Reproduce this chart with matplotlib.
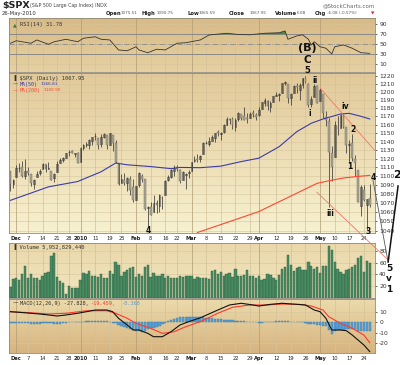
import numpy as np
import pandas as pd
import matplotlib
matplotlib.use('Agg')
import matplotlib.pyplot as plt
from matplotlib.colors import LinearSegmentedColormap
from matplotlib.ticker import FixedLocator, FixedFormatter, NullLocator
# ================================================================================= #
#                                   Data                                            #
# ================================================================================= #
holidays = ['2009-12-25', '2010-01-01', '2010-01-18', '2010-02-15', '2010-04-02']
dates = pd.bdate_range('2009-11-27', '2010-05-26')
dates = dates[~dates.isin(pd.to_datetime(holidays))]

opens = [1105.47, 1091.07,
         1098.89, 1109.03, 1110.59, 1100.43, 1105.52, 1103.04, 1091.07, 1098.69, 1103.96, 1107.84, 1114.11,
         1108.61, 1106.36, 1097.86, 1105.31, 1114.51, 1118.84, 1121.08, 1127.53, 1128.55, 1125.53, 1126.60,
         1116.56, 1132.66, 1135.71, 1136.27, 1140.52, 1145.96, 1143.81, 1137.31, 1145.68, 1147.72, 1136.03,
         1147.95, 1138.68, 1115.49, 1092.40, 1095.80, 1091.94, 1096.93, 1087.61,
         1073.89, 1090.05, 1100.67, 1097.25, 1064.12, 1065.51, 1060.06, 1069.68, 1067.10, 1075.95, 1079.13,
         1096.14, 1099.03, 1105.49, 1110.00, 1107.49, 1095.89, 1101.24, 1103.10,
         1105.36, 1117.01, 1119.36, 1119.12, 1125.12, 1138.40, 1137.56, 1140.22, 1143.96, 1151.71, 1148.53,
         1150.83, 1159.94, 1166.13, 1166.68, 1157.25, 1166.47, 1172.70, 1170.03, 1167.58, 1167.71, 1173.75, 1171.75,
         1171.23, 1178.71, 1186.01, 1188.23, 1181.75, 1187.47, 1194.94, 1195.94, 1198.69, 1210.77, 1210.17,
         1192.06, 1199.04, 1207.16, 1202.52, 1207.87, 1217.07, 1209.92, 1184.59, 1193.30, 1206.77,
         1188.58, 1197.50, 1169.24, 1164.38, 1127.04, 1122.27, 1156.39, 1155.43, 1170.04, 1157.19, 1136.52,
         1138.78, 1119.57, 1107.34, 1067.26, 1084.78, 1067.42, 1075.51]
highs = [1105.47, 1097.24,
         1112.28, 1115.58, 1117.28, 1119.13, 1110.72, 1103.04, 1097.04, 1106.25, 1108.45, 1114.76, 1114.11,
         1116.21, 1106.36, 1103.74, 1117.68, 1120.27, 1121.58, 1126.48, 1130.38, 1130.38, 1126.42, 1127.64,
         1133.87, 1136.63, 1139.19, 1142.46, 1145.39, 1149.74, 1143.81, 1148.40, 1150.41, 1147.77, 1150.45,
         1147.95, 1141.58, 1115.49, 1102.97, 1103.69, 1099.51, 1100.22, 1096.45,
         1089.38, 1104.73, 1102.72, 1097.25, 1067.13, 1071.20, 1079.28, 1073.67, 1080.04, 1077.81, 1095.67,
         1101.03, 1108.24, 1112.42, 1112.29, 1108.58, 1106.42, 1103.50, 1107.24,
         1116.11, 1123.46, 1125.64, 1123.73, 1139.38, 1141.05, 1145.37, 1148.26, 1150.24, 1153.41, 1150.98,
         1160.28, 1169.20, 1167.77, 1169.20, 1167.82, 1174.72, 1173.04, 1180.69, 1173.93, 1174.85, 1177.83, 1174.56,
         1181.43, 1187.73, 1191.80, 1189.60, 1188.55, 1194.66, 1199.20, 1199.04, 1210.65, 1213.92, 1210.17,
         1197.87, 1208.58, 1210.99, 1210.27, 1217.28, 1219.80, 1211.38, 1195.05, 1209.36, 1207.99,
         1205.13, 1197.50, 1175.95, 1167.58, 1135.13, 1163.85, 1170.48, 1172.87, 1173.57, 1157.19, 1141.88,
         1148.66, 1124.27, 1107.34, 1090.16, 1089.95, 1074.75, 1090.75]
lows = [1083.74, 1086.25,
        1098.89, 1105.29, 1098.74, 1096.52, 1100.83, 1088.61, 1085.89, 1098.69, 1101.34, 1107.84, 1105.35,
        1107.96, 1095.88, 1093.88, 1105.31, 1114.51, 1116.00, 1121.08, 1123.51, 1126.08, 1121.94, 1114.81,
        1116.56, 1129.66, 1133.95, 1131.32, 1136.22, 1142.02, 1131.77, 1133.18, 1143.80, 1131.39, 1135.77,
        1129.25, 1114.84, 1090.18, 1092.40, 1089.86, 1083.11, 1078.46, 1071.59,
        1073.89, 1087.96, 1093.97, 1062.78, 1044.50, 1056.51, 1060.06, 1059.34, 1060.59, 1062.97, 1079.13,
        1094.72, 1097.48, 1100.80, 1105.38, 1092.18, 1095.50, 1086.02, 1097.56,
        1105.36, 1116.51, 1116.58, 1116.66, 1125.12, 1136.77, 1134.90, 1140.09, 1138.99, 1146.97, 1141.45,
        1150.35, 1159.94, 1161.16, 1155.33, 1152.88, 1163.83, 1166.01, 1165.09, 1161.48, 1167.71, 1168.92, 1165.77,
        1170.69, 1178.71, 1182.77, 1177.25, 1175.12, 1187.15, 1194.71, 1188.82, 1198.69, 1208.50, 1186.77,
        1183.68, 1199.04, 1198.85, 1190.19, 1205.10, 1211.07, 1181.62, 1181.81, 1193.30, 1186.32,
        1188.58, 1168.12, 1158.15, 1065.79, 1094.15, 1122.27, 1147.71, 1155.43, 1156.14, 1126.14, 1114.96,
        1117.20, 1100.66, 1071.58, 1055.90, 1072.70, 1040.78, 1065.59]
closes = [1091.49, 1095.63,
          1108.86, 1109.24, 1099.92, 1105.98, 1103.25, 1091.94, 1095.95, 1102.35, 1106.41, 1114.11, 1107.93,
          1109.18, 1096.08, 1102.47, 1114.05, 1118.02, 1120.59, 1126.48, 1127.78, 1126.20, 1126.42, 1115.10,
          1132.99, 1136.52, 1137.14, 1141.69, 1144.98, 1146.98, 1136.22, 1145.68, 1148.46, 1136.03, 1150.23,
          1138.04, 1116.48, 1091.76, 1096.78, 1092.17, 1097.50, 1084.53, 1073.87,
          1089.19, 1103.32, 1097.28, 1063.11, 1066.19, 1056.74, 1070.52, 1068.13, 1078.47, 1075.51, 1094.87,
          1099.51, 1106.75, 1109.17, 1108.01, 1094.60, 1105.24, 1102.94, 1104.49,
          1115.71, 1118.31, 1118.79, 1122.97, 1138.70, 1138.50, 1140.45, 1145.61, 1150.24, 1149.99, 1150.51,
          1159.46, 1166.21, 1165.83, 1159.90, 1165.81, 1174.17, 1167.72, 1165.73, 1166.59, 1173.22, 1173.27, 1169.43,
          1178.10, 1187.44, 1189.44, 1182.45, 1186.44, 1194.37, 1196.48, 1197.30, 1210.65, 1211.67, 1192.13,
          1197.52, 1207.17, 1205.94, 1208.67, 1217.28, 1212.05, 1183.71, 1191.36, 1206.78, 1186.69,
          1202.26, 1173.60, 1165.90, 1128.15, 1110.88, 1159.73, 1155.79, 1171.67, 1157.44, 1135.68, 1136.94,
          1120.80, 1115.05, 1071.59, 1087.69, 1073.65, 1074.03, 1067.95]

# volume in hundreds of millions of shares
volume_100m = [18, 32, 34, 31, 41, 54, 34, 40, 34, 34, 30, 38, 43, 44, 71, 76, 35, 28, 25, 7.5,
               20, 17, 17, 17, 31, 42, 41, 46, 38, 36.5, 35, 41, 34, 34, 45, 40, 61, 55, 38, 44,
               48, 51, 52, 35, 41, 38, 53, 56, 35, 42, 36.5, 36.5, 41, 34, 36.5, 33, 34, 34, 36.5, 35,
               36.5, 38,
               36.5, 32, 35, 33, 33, 33, 32, 45, 47, 41, 43.5, 38, 40, 42, 35, 49, 36.5, 36.5, 39, 48,
               38, 36.5, 34, 38, 31, 32, 41, 39, 34, 31, 39, 49, 52.8, 73, 56, 46, 50, 51.6, 47, 48,
               61, 54, 49, 53, 42, 54, 54, 87.5, 82, 61, 49, 43.5, 41, 48, 49, 53, 55, 68, 71, 43.5,
               62, 59.5]

# moving averages (bar index, value)
ma50_idx = [0, 13, 23, 31, 36, 40, 48, 55, 58, 65, 72, 79, 85, 92, 98, 103, 107, 113, 116, 120, 123]
ma50_val = [1073, 1088, 1094, 1105, 1115, 1113, 1111, 1108.6, 1110, 1109.7, 1111.5, 1116.7, 1120.6,
            1134, 1151.6, 1161.7, 1166.8, 1172.8, 1173.6, 1170, 1166.81]
ma200_idx = [64, 85, 105, 109, 114, 119, 123]
ma200_val = [1038, 1060.6, 1092, 1094.8, 1098, 1099.8, 1100.90]

# RSI(14)
rsi_idx = [0, 2, 7, 9, 13, 15, 19, 23, 25, 29, 31, 34, 37, 40, 43, 44, 47, 50, 53, 57, 60, 65, 68,
           74, 78, 82, 87, 92, 94, 95, 98, 100, 102, 103, 104, 106, 108, 110, 111, 114, 117, 120, 123]
rsi_val = [52, 57, 52, 58.6, 50, 55, 60, 55, 62, 65, 60, 58.6, 38.6, 37, 45, 38.6, 33, 40, 38.6, 52, 53,
           58.6, 68.6, 72, 69.5, 69, 72, 73, 76.6, 60, 66.6, 69, 60, 48.6, 55, 45, 42, 30.6, 45, 48.6,
           42, 33, 31.78]

# MACD(12,26,9)
macd_idx = [0, 3, 7, 10, 13, 16, 19, 23, 26, 29, 33, 35, 37, 40, 42, 44, 47, 49, 52, 55, 58, 61, 65,
            71, 75, 79, 83, 85, 89, 93, 98, 101, 104, 106, 108, 110, 113, 115, 117, 121, 123]
macd_val = [10.1, 9.5, 8.6, 7.9, 7.0, 6.0, 7.0, 8.6, 10.1, 11.7, 11.7, 10.1, 3.8, -2.6, -7.3, -7.3,
            -10.5, -13.7, -13.7, -8.9, -2.6, 0.6, 4.3, 11.7, 16.5, 18.1, 16.5, 15.5, 17.1, 18.1, 17.1,
            16.5, 11.7, 10.1, 3.8, -7.3, -7.3, -8.0, -12.1, -21.6, -27.828]
signal_idx = [0, 7, 13, 19, 26, 33, 36, 40, 43, 48, 52, 56, 60, 65, 71, 76, 82, 88, 93, 99, 103,
              107, 109, 113, 117, 121, 123]
signal_val = [10.1, 9.1, 7.9, 8.6, 11.0, 11.0, 8.6, 3.8, -1.0, -5.7, -10.5, -9.0, -4.2, 0.6, 8.6,
              14.3, 16.5, 16.5, 17.4, 17.1, 15.5, 11.7, 5.3, -1.0, -5.7, -12.1, -19.459]
hist_val = [-0.5, -0.6, -0.7, -0.8, -0.9, -1.0, -1.0, -1.2, -1.4, -1.5,
            -1.5, -1.0, -0.6, -0.5, -1.0, -1.3, -1.5, -1.4, -1.1, -0.6,
            0.2, 0.4, 0.5, 0.5, 0.6, 0.7, 0.8, 1.0, 1.1, 1.0,
            0.9, 1.0, 1.1, 1.0, 0.4, -0.2, -1.0, -2.8, -3.6, -4.4,
            -5.0, -6.2, -7.0, -7.8, -8.4, -9.0, -8.6, -6.5, -5.8, -5.0,
            -4.2, -3.2, -1.5, -0.8, 1.5, 2.4, 3.4, 4.3, 5.0, 5.2,
            5.4, 5.4, 5.3, 5.4, 5.3, 5.2, 4.8, 4.5, 4.2, 3.8,
            3.4, 3.0, 2.7, 2.4, 2.2, 2.0, 1.8, 1.5, 1.3, 1.1,
            0.9, 0.7, 0.6, 0.3, 0.0, -0.3, -0.2, 0.0, 0.1, 0.0,
            0.4, 0.8, 1.1, 1.3, 1.4, 0.8, 0.4, 0.1, 0.0, 0.1,
            0.0, -1.0, -1.5, -1.8, -2.0, -2.4, -2.8, -3.2, -3.6, -7.5,
            -10.8, -8.5, -7.3, -7.0, -7.2, -6.6, -6.2, -6.0, -6.8, -7.8,
            -8.4, -8.2, -8.3, -8.368]

tick_dates = ['2009-12-01', '2009-12-07', '2009-12-14', '2009-12-21', '2009-12-28', '2010-01-04',
              '2010-01-11', '2010-01-19', '2010-01-25', '2010-02-01', '2010-02-08', '2010-02-16',
              '2010-02-22', '2010-03-01', '2010-03-08', '2010-03-15', '2010-03-22', '2010-03-29',
              '2010-04-01', '2010-04-12', '2010-04-19', '2010-04-26', '2010-05-03', '2010-05-10',
              '2010-05-17', '2010-05-24']
tick_labels = ['Dec', '7', '14', '21', '28', '2010', '11', '19', '25', 'Feb', '8', '16', '22', 'Mar',
               '8', '15', '22', '29', 'Apr', '12', '19', '26', 'May', '10', '17', '24']
month_labels = ['Dec', '2010', 'Feb', 'Mar', 'Apr', 'May']

price_ticks = list(range(1040, 1221, 10))
rsi_ticks = [10, 30, 50, 70, 90]
vol_ticks = [20, 40, 60, 80]
macd_ticks = [-20, -10, 0, 10]

# ================================================================================= #
#                                   Figure                                          #
# ================================================================================= #
W, H = 400, 365
fig = plt.figure(figsize=(4, 3.65), dpi=100)
fig.patch.set_facecolor('white')

x = np.arange(len(closes))
o, h, l, c = map(np.array, (opens, highs, lows, closes))
tick_pos = dates.searchsorted(pd.to_datetime(tick_dates))


def ftext(px, py, s, **kw):
    kw.setdefault('va', 'center')
    fig.text(px / W, 1 - py / H, s, zorder=20, **kw)


def panel(y0, y1, c_top, c_bot, z, yticks, ylabels, xlabels=False):
    r = [9 / W, 1 - y1 / H, 366 / W, (y1 - y0) / H]
    bg = fig.add_axes(r, zorder=z - 1)
    cm = LinearSegmentedColormap.from_list('bg', [c_bot, c_top])
    bg.imshow(np.linspace(1, 0, 64)[:, None], cmap=cm, aspect='auto', extent=[0, 1, 0, 1])
    bg.set_axis_off()
    ax = fig.add_axes(r, zorder=z)
    ax.patch.set_visible(False)
    ax.set_xlim(-0.5, 124.8)
    for s in ax.spines.values():
        s.set_color('#8f897a')
        s.set_linewidth(0.6)
    ax.yaxis.tick_right()
    ax.yaxis.set_major_locator(FixedLocator(yticks))
    ax.yaxis.set_major_formatter(FixedFormatter(ylabels))
    ax.yaxis.set_minor_locator(NullLocator())
    ax.tick_params(axis='y', labelsize=4.3, length=1.5, width=0.5, pad=1.5, colors='#333333')
    ax.set_xticks(tick_pos)
    if xlabels:
        ax.set_xticklabels(tick_labels)
        for t in ax.get_xticklabels():
            if t.get_text() in month_labels:
                t.set_fontweight('bold')
    else:
        ax.set_xticklabels([])
    ax.tick_params(axis='x', length=0, labelsize=3.7, pad=2, colors='#222222')
    for p, lab in zip(tick_pos, tick_labels):
        ax.axvline(p, color='#b09c74' if lab in month_labels else '#d3c29a', lw=0.5, zorder=0.5)
    for t in yticks:
        ax.axhline(t, color='#d6c59d', lw=0.4, zorder=0.4)
    return ax


# ---- RSI ---- #
ax_rsi = panel(18.3, 71.7, '#d8ba86', '#e6d1a2', 2, rsi_ticks, [str(t) for t in rsi_ticks])
ax_rsi.set_ylim(-5, 102)
ax_rsi.axhline(70, color='#8a8a8a', lw=0.7, zorder=1)
ax_rsi.axhline(30, color='#8a8a8a', lw=0.7, zorder=1)
ax_rsi.axhline(50, color='#8a8a8a', lw=0.6, ls='-.', zorder=1)
rv = np.array(rsi_val)
ax_rsi.fill_between(rsi_idx, rv, 70, where=rv > 70, interpolate=True, color='#4f8a3a', lw=0, zorder=2)
ax_rsi.plot(rsi_idx, rsi_val, color='#333333', lw=0.6, zorder=3)
ax_rsi.text(0.012, 0.88, '\u25b2', transform=ax_rsi.transAxes, fontsize=3.5, color='#3f7a2e', va='center')
ax_rsi.text(0.03, 0.88, 'RSI(14) 31.78', transform=ax_rsi.transAxes, fontsize=3.9,
            family='DejaVu Sans Mono', color='#333333', va='center')

# ---- price ---- #
ax_p = panel(73, 233, '#e2c998', '#f7f1d0', 10, price_ticks, [str(t) for t in price_ticks], xlabels=True)
ax_p.set_yscale('log')
ax_p.yaxis.set_major_locator(FixedLocator(price_ticks))
ax_p.yaxis.set_major_formatter(FixedFormatter([str(t) for t in price_ticks]))
ax_p.yaxis.set_minor_locator(NullLocator())
ax_p.set_ylim(1037.5, 1223.4)

up = c >= o
lo_b, hi_b = np.minimum(o, c), np.maximum(o, c)
ax_p.vlines(x, l, h, color='#3a3a3a', lw=0.55, zorder=3)
ax_p.bar(x[up], np.maximum(hi_b[up] - lo_b[up], 0.4), bottom=lo_b[up], width=0.6,
         facecolor='none', edgecolor='#3a3a3a', lw=0.4, zorder=4)
ax_p.bar(x[~up], np.maximum(hi_b[~up] - lo_b[~up], 0.4), bottom=lo_b[~up], width=0.65,
         facecolor='#aaa592', edgecolor='#77746a', lw=0.35, zorder=4)
ax_p.plot(ma50_idx, ma50_val, color='#3c3ca8', lw=0.8, zorder=5)
ax_p.plot(ma200_idx, ma200_val, color='#ff4632', lw=0.8, zorder=5)

# hand-drawn wave count
ax_p.plot([106, 124.6], [1204.6, 1130], color='#f07a66', lw=0.6, zorder=6)
ax_p.plot([104.9, 129.3], [1082, 1009], color='#f07a66', lw=0.6, zorder=6, clip_on=False)
ax_p.plot([124.1, 129.3], [1095.7, 1007], color='#555555', lw=0.6, zorder=6, clip_on=False)
ax_p.plot([129.3, 132.7], [1007, 1089], color='#111111', lw=1.1, zorder=6, clip_on=False)
waves = [(101.7, 1254.7, '(B)', 8), (101.5, 1240.5, 'C', 7.5), (101.5, 1226, '5', 6),
         (104.3, 1213.4, 'ii', 5.5), (102.6, 1174, 'i', 5.5), (114.6, 1181.3, 'iv', 5.5),
         (117.3, 1154.8, '2', 5.5), (116.3, 1110.5, '1', 5.5), (109.4, 1059, 'iii', 5.5),
         (122.4, 1038.6, '3', 5.5), (124.1, 1099, '4', 5.5), (47.1, 1039.7, '4', 5.5),
         (132.4, 1101.4, '2', 8), (129.6, 1000, '5', 6.5), (129.6, 989.5, 'v', 6.5),
         (129.6, 978.4, '1', 6.5)]
for wi, wp, ws, wf in waves:
    ax_p.text(wi, wp, ws, ha='center', va='center', fontsize=wf, fontweight='bold',
              color='#111111', zorder=7, clip_on=False)

ax_p.text(0.01, 0.985, '\u2590 $SPX (Daily) 1067.95', transform=ax_p.transAxes, fontsize=3.9,
          family='DejaVu Sans Mono', color='#333333', va='top')
ax_p.text(0.01, 0.945, '\u2014', transform=ax_p.transAxes, fontsize=3.9, color='#3c3ca8', va='top')
ax_p.text(0.03, 0.945, 'MA(50)', transform=ax_p.transAxes, fontsize=3.6,
          family='DejaVu Sans Mono', color='#3c3ca8', va='top')
ax_p.text(0.085, 0.945, '1166.81', transform=ax_p.transAxes, fontsize=3.1, color='#3c3ca8', va='top')
ax_p.text(0.01, 0.905, '\u2014', transform=ax_p.transAxes, fontsize=3.9, color='#ff4632', va='top')
ax_p.text(0.03, 0.905, 'MA(200)', transform=ax_p.transAxes, fontsize=3.6,
          family='DejaVu Sans Mono', color='#ff4632', va='top')
ax_p.text(0.095, 0.905, '1100.90', transform=ax_p.transAxes, fontsize=3.1, color='#ff4632', va='top')

# ---- volume ---- #
ax_v = panel(243, 298, '#ead8aa', '#f1e6c0', 2, vol_ticks, [str(t) for t in vol_ticks])
ax_v.set_ylim(0, 93)
ax_v.bar(x, volume_100m, width=0.8, color='#4a8c62', edgecolor='#2d5e42', lw=0.3, zorder=3)
ax_v.text(0.01, 0.93, '\u2590 Volume 5,952,829,440', transform=ax_v.transAxes, fontsize=3.9,
          family='DejaVu Sans Mono', color='#333333', va='center', zorder=5)

# ---- MACD ---- #
ax_m = panel(299.3, 353, '#ecdaab', '#d6b47f', 2, macd_ticks, [str(t) for t in macd_ticks], xlabels=True)
ax_m.set_ylim(-29.2, 21.9)
ax_m.bar(x, hist_val, width=0.8, color='#5a9fd4', edgecolor='#3b7fb2', lw=0.3, zorder=3)
ax_m.plot(signal_idx, signal_val, color='#ff3a2a', lw=0.8, zorder=4)
ax_m.plot(macd_idx, macd_val, color='#111111', lw=0.8, zorder=5)
ax_m.text(0.01, 0.93, '\u2014', transform=ax_m.transAxes, fontsize=3.9, color='#111111', va='center')
ax_m.text(0.03, 0.93, 'MACD(12,26,9) -27.828,', transform=ax_m.transAxes, fontsize=3.8,
          family='DejaVu Sans Mono', color='#333333', va='center')
ax_m.text(0.222, 0.93, '-19.459,', transform=ax_m.transAxes, fontsize=3.8,
          family='DejaVu Sans Mono', color='#ff3a2a', va='center')
ax_m.text(0.305, 0.93, '-8.368', transform=ax_m.transAxes, fontsize=3.8,
          family='DejaVu Sans Mono', color='#5a9fd4', va='center')

# ---- header ---- #
ftext(2, 5.5, '$SPX', fontsize=6.8, fontweight='bold', color='#222222')
ftext(30, 6, '(S&P 500 Large Cap Index) INDX', fontsize=3.4, color='#444444')
ftext(375, 5.5, '@StockCharts.com', fontsize=4.0, color='#666666', ha='right')
ftext(2, 13.5, '26-May-2010', fontsize=3.8, color='#333333')
header = [(106, 'Open', True), (121, '1075.51', False), (142, 'High', True), (157, '1090.75', False),
          (188, 'Low', True), (199, '1065.59', False), (229, 'Close', True), (250, '1067.95', False),
          (275, 'Volume', True), (297, '6.0B', False), (315, 'Chg', True), (327, '-6.08 (-0.57%)', False)]
for hx, hs, hb in header:
    if hb:
        ftext(hx, 13.5, hs, fontsize=3.8, fontweight='bold', color='#222222')
    else:
        ftext(hx, 13.5, hs, fontsize=3.0, color='#555555')
ftext(373, 13.5, '\u25bc', fontsize=3.2, color='#dd2222', ha='center')

fig.savefig('out.png', dpi=100, facecolor='white')
